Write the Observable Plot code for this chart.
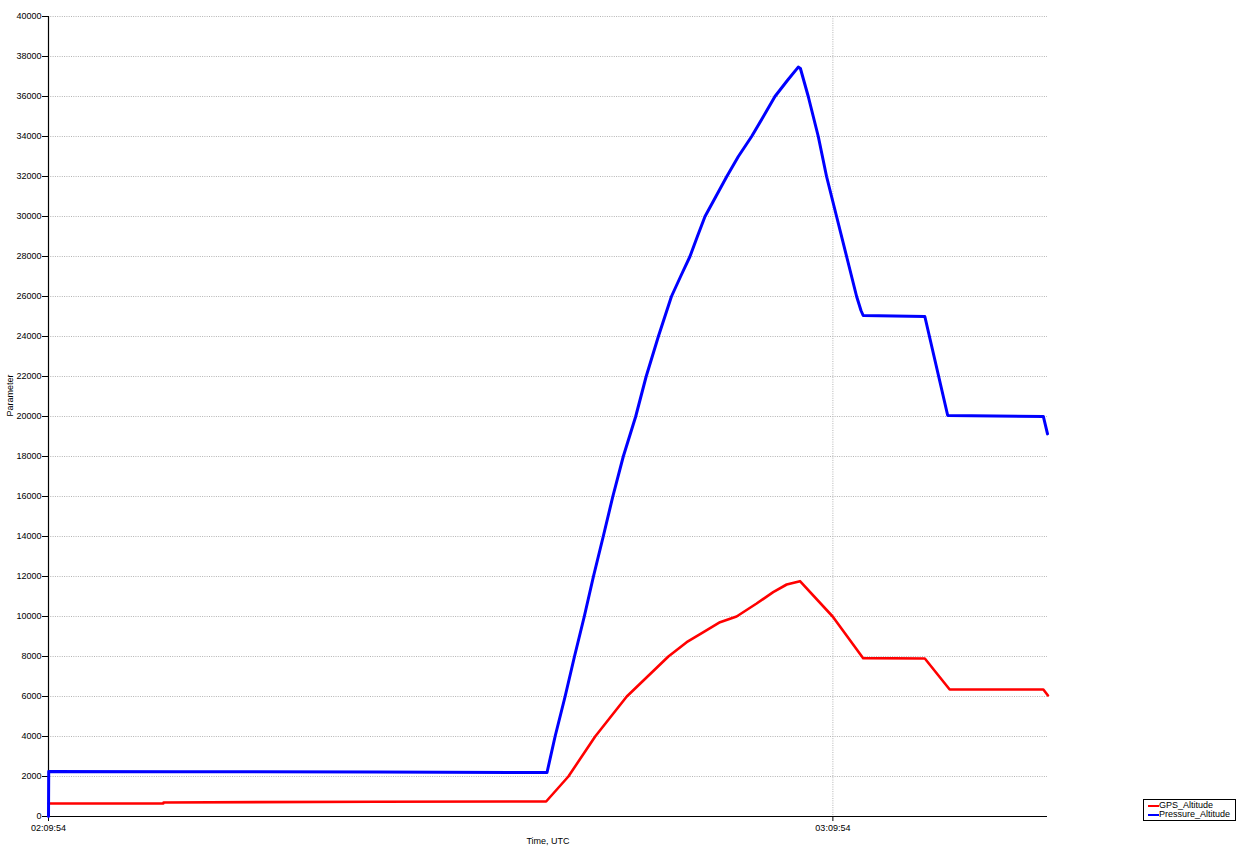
<!DOCTYPE html>
<html>
<head>
<meta charset="utf-8">
<script src="https://cdn.jsdelivr.net/npm/d3@7"></script>
<script src="https://cdn.jsdelivr.net/npm/@observablehq/plot@0.6"></script>
<style>
  body { margin: 0; background: #fff; font-family: "Liberation Sans", Arial, sans-serif; }
  #wrap { position: relative; width: 1238px; height: 849px; }
  #legend { position: absolute; left: 1143px; top: 799px; width: 91px; height: 20px; border: 1px solid #000; background: #fff; font-size: 9px; line-height: 9px; color: #000; }
  #legend .row { display: flex; align-items: center; height: 9px; margin-left: 4px; }
  #legend .row:first-child { margin-top: 1px; }
  #legend .sw { width: 11px; height: 2px; margin-right: 0px; }
</style>
</head>
<body>
<div id="wrap">
  <div id="chart"></div>
  <div id="legend"></div>
</div>
<script>
// ---- data ----
const seriesNames = ["GPS_Altitude", "Pressure_Altitude"];
const seriesColors = ["#ff0000", "#0000ff"];

const pressureTimes = ["02:09:54","02:09:55","02:20:00","02:35:00","02:47:58","02:48:02","02:48:39","02:49:25","02:50:08","02:50:53","02:51:35","02:52:20","02:53:04","02:53:52","02:54:49","02:55:37","02:56:33","02:57:33","02:58:15","02:58:58","02:59:32","03:00:07","03:00:57","03:01:47","03:02:40","03:03:41","03:04:35","03:05:28","03:06:25","03:07:15","03:07:25","03:08:01","03:08:47","03:09:25","03:10:11","03:10:57","03:11:43","03:12:03","03:12:13","03:16:56","03:18:41","03:26:00","03:26:19"];
const pressureValues = [0,2250,2240,2220,2200,2200,4000,6000,8000,10000,12000,14000,16000,18000,20000,22000,24000,26000,27000,28000,29000,30000,31000,32000,33000,34000,35000,36000,36800,37470,37400,36000,34000,32000,30000,28000,26000,25300,25050,25000,20050,20000,19130];

const gpsTimes = ["02:09:54","02:18:41","02:18:42","02:35:00","02:47:58","02:49:40","02:51:43","02:54:08","02:57:19","02:58:43","03:00:00","03:01:16","03:02:32","03:04:04","03:05:20","03:06:22","03:07:23","03:09:53","03:12:13","03:16:56","03:18:50","03:26:00","03:26:21"];
const gpsValues = [650,650,700,740,750,2000,4000,6000,8000,8717,9217,9717,10000,10650,11217,11600,11767,10000,7917,7900,6350,6350,6050];

const yTicks = d3.range(0, 40001, 2000);
const xTickLabels = ["02:09:54", "03:09:54"];
const xDomainLabels = ["02:09:54", "03:26:19"];

// ---- build ----
const toDate = s => new Date(`2020-01-01T${s}Z`);
const rows = [];
pressureTimes.forEach((t, i) => rows.push({series: seriesNames[1], time: toDate(t), value: pressureValues[i]}));
gpsTimes.forEach((t, i) => rows.push({series: seriesNames[0], time: toDate(t), value: gpsValues[i]}));
const xTicks = xTickLabels.map(toDate);
const xDomain = xDomainLabels.map(toDate);
const fmt = d3.utcFormat("%H:%M:%S");

const chart = Plot.plot({
  width: 1238,
  height: 849,
  marginLeft: 48,
  marginTop: 16,
  marginRight: 191,
  marginBottom: 33,
  style: { fontFamily: "'Liberation Sans', Arial, sans-serif", fontSize: "9px", color: "#000", background: "#fff", overflow: "visible" },
  x: { type: "utc", domain: xDomain },
  y: { domain: [0, 40000] },
  color: { domain: seriesNames, range: seriesColors },
  marks: [
    Plot.gridY(yTicks, { stroke: "#b4b4b4", strokeOpacity: 1, strokeDasharray: "1,1.3" }),
    Plot.gridX(xTicks.slice(1), { stroke: "#b4b4b4", strokeOpacity: 1, strokeDasharray: "1,1.3" }),
    Plot.axisY(yTicks, { tickSize: 6, tickPadding: 1, tickFormat: d => String(d), label: null, stroke: "#000", fill: "#000" }),
    Plot.axisX(xTicks, { tickSize: 5, tickPadding: 3, tickFormat: fmt, label: null, stroke: "#000", fill: "#000" }),
    Plot.ruleY([0], { stroke: "#000", strokeWidth: 1.2 }),
    Plot.ruleX([xDomain[0]], { stroke: "#000", strokeWidth: 1.2 }),
    Plot.line(rows.filter(d => d.series === seriesNames[0]), { x: "time", y: "value", stroke: "series", strokeWidth: 2.6, curve: "linear" }),
    Plot.line(rows.filter(d => d.series === seriesNames[1]), { x: "time", y: "value", stroke: "series", strokeWidth: 3, curve: "linear" }),
    Plot.text(["Parameter"], { frameAnchor: "left", rotate: -90, dx: -38, fill: "#000" }),
    Plot.text(["Time, UTC"], { frameAnchor: "bottom", dy: 27, fill: "#000" })
  ]
});
document.getElementById("chart").appendChild(chart);

const legend = document.getElementById("legend");
seriesNames.forEach((name, i) => {
  const row = document.createElement("div");
  row.className = "row";
  const sw = document.createElement("span");
  sw.className = "sw";
  sw.style.background = seriesColors[i];
  const lab = document.createElement("span");
  lab.textContent = name;
  row.appendChild(sw);
  row.appendChild(lab);
  legend.appendChild(row);
});
</script>
</body>
</html>
